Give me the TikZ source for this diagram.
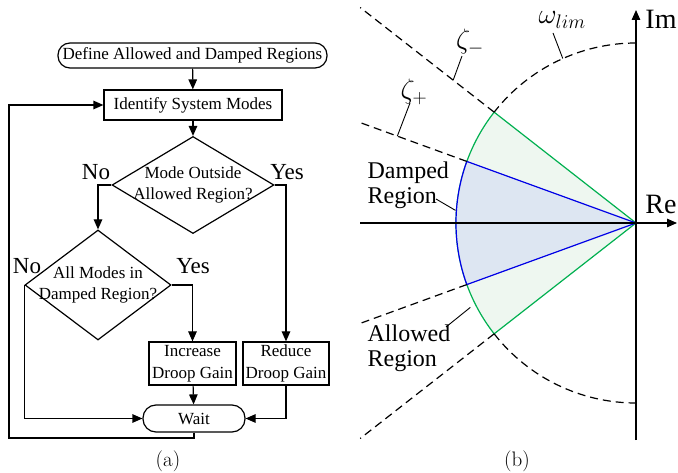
\documentclass[tikz,border=0pt]{standalone}
\usepackage{fix-cm}
\usepackage{fontspec}
\newfontfamily\timesfont{Liberation Serif}
\usetikzlibrary{arrows.meta,shapes.geometric}

\definecolor{allowline}{RGB}{0,176,80}
\definecolor{dampline}{RGB}{0,0,230}
\definecolor{allowfill}{RGB}{238,247,240}
\definecolor{dampfill}{RGB}{221,230,242}

\begin{document}
\begin{tikzpicture}[x=1pt, y=-1pt, >={Triangle[length=10pt,width=8.5pt]}, line width=1.2pt,
    block/.style={draw, rectangle, inner sep=1pt, align=center,
        font=\timesfont\fontsize{17}{21.5}\selectfont},
    terminal/.style={block, rounded corners=12pt},
    decision/.style={draw, diamond, inner sep=-6pt, align=center,
        font=\timesfont\fontsize{17}{21}\selectfont},
    answer/.style={font=\timesfont\fontsize{23}{26}\selectfont},
    region/.style={font=\timesfont\fontsize{24}{25}\selectfont, align=left, anchor=west, inner sep=0pt},
    axislabel/.style={font=\timesfont\fontsize{28}{30}\selectfont},
    greek/.style={font=\fontsize{28}{30}\selectfont},
    bound/.style={dash pattern=on 8pt off 5pt},
    leader/.style={line width=0.9pt}]
    \useasboundingbox (0,0) rectangle (678,473);

    % Flowchart
    \node[terminal, minimum width=269, minimum height=25] (define) at (192.5,55.5) {Define Allowed and Damped Regions};
    \node[block, minimum width=178, minimum height=30] (ident) at (193,105) {Identify System Modes};
    \node[decision, aspect=1.67, minimum width=162, minimum height=97] (mode) at (193,185) {Mode Outside\\Allowed Region?};
    \node[decision, aspect=1.33, minimum width=146, minimum height=110] (damp) at (98,285) {All Modes in\\Damped Region?};
    \node[block, minimum width=87, minimum height=43] (inc) at (192.5,363.5) {Increase\\Droop Gain};
    \node[block, minimum width=86, minimum height=43] (red) at (286,363.5) {Reduce\\Droop Gain};
    \node[terminal, minimum width=102, minimum height=27, rounded corners=13pt] (wait) at (194,418.5) {Wait};
    \coordinate (loop) at (9,438);

    \draw[->] (define) -- (ident);
    \draw[->] (ident) -- (mode);
    \draw[->] (mode.west) -| (damp.north);
    \draw[->] (mode.east) -| (red.north);
    \draw[->] (damp.east) -| (inc.north);
    \draw[->] (damp.west) |- (wait.west);
    \draw[->] (inc) -- (wait);
    \draw[->] (red.south) |- (wait.east);
    \draw[->] (wait.south) |- (loop) |- (ident.west);

    \node[answer] (no1) at (96,172) {No};
    \node[answer] (yes1) at (287,172) {Yes};
    \node[answer] (no2) at (27,266) {No};
    \node[answer] (yes2) at (193,266) {Yes};

    \node[font=\fontsize{21}{24}\selectfont] (capa) at (168,461) {(a)};

    % Complex plane
    \begin{scope}[shift={(636,223)}, yscale=-1]
        \coordinate (O) at (0,0);
        % regions
        \filldraw[fill=allowfill, draw=allowline] (O) -- (142:180) arc (142:218:180) -- cycle;
        \filldraw[fill=dampfill, draw=dampline] (O) -- (160:180) arc (160:200:180) -- cycle;
        % bounds
        \draw[bound] (90:180) arc (90:142:180);
        \draw[bound] (218:180) arc (218:270:180);
        \draw[bound] (142:180) -- (142:350);
        \draw[bound] (218:180) -- (218:350);
        \draw[bound] (160:180) -- (160:294);
        \draw[bound] (200:180) -- (200:294);
        % axes
        \draw[->, line width=1.3pt] (-276,0) -- (41,0);
        \draw[->, line width=1.3pt] (0,-217) -- (0,213);
        % leader ends
        \coordinate (zmA) at (142:232);
        \coordinate (zmB) at (-174,167);
        \coordinate (zpA) at (160:254);
        \coordinate (zpB) at (-226,120);
        \coordinate (wA) at (114:180);
        \coordinate (wB) at (-83,190);
        \coordinate (dA) at (176:181);
        \coordinate (aA) at (207:186);
    \end{scope}

    \node[axislabel] (im) at (661,19) {Im};
    \node[axislabel] (re) at (661,204) {Re};
    \node[greek] (zm) at (470,42) {$\zeta_-$};
    \node[greek] (zp) at (414,92) {$\zeta_+$};
    \node[greek, anchor=west, inner sep=0pt] (wl) at (538,20) {$\omega_{lim}$};
    \node[region] (dreg) at (367,185) {Damped\\Region};
    \node[region] (areg) at (367,348) {Allowed\\Region};
    \coordinate (dB) at (436,199);
    \coordinate (aB) at (446,327);

    \draw[leader] (zmA) -- (zmB);
    \draw[leader] (zpA) -- (zpB);
    \draw[leader] (wA) -- (wB);
    \draw[leader] (dB) -- (dA);
    \draw[leader] (aB) -- (aA);

    \node[font=\fontsize{21}{24}\selectfont] (capb) at (517,461) {(b)};
\end{tikzpicture}
\end{document}
